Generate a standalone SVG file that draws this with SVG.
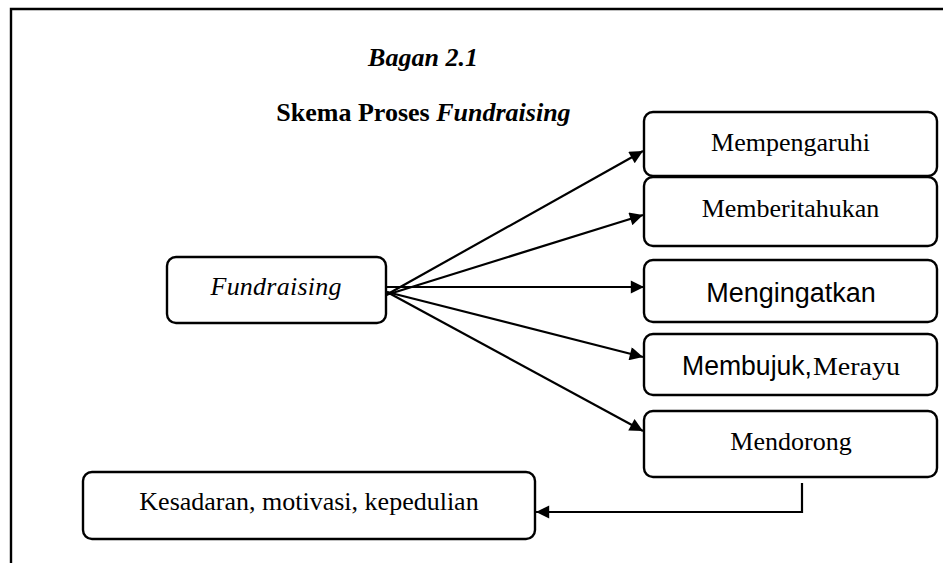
<svg xmlns="http://www.w3.org/2000/svg" width="943" height="563" viewBox="0 0 943 563">
<defs>
<style>
.box{fill:#fff;stroke:#000;stroke-width:2.4}
.t{font-family:"Liberation Serif","Times New Roman",serif;font-size:26px;fill:#000;text-anchor:middle}
.s{font-family:"Liberation Sans",Arial,sans-serif;font-size:27px;fill:#000}
.ln{fill:none;stroke:#000;stroke-width:2.2}
</style>
<marker id="ah" viewBox="0 0 10 10" refX="10" refY="5" markerWidth="7.5" markerHeight="6" markerUnits="strokeWidth" orient="auto">
<path d="M0,0 L10,5 L0,10 Z" fill="#000"/>
</marker>
</defs>
<rect width="943" height="563" fill="#fff"/>
<path d="M11,563 V9 H943" fill="none" stroke="#000" stroke-width="2.4"/>
<g id="title">
<text class="t" x="423" y="66" font-weight="bold" font-style="italic">Bagan 2.1</text>
<text class="t" x="423.5" y="121" font-weight="bold">Skema Proses <tspan font-style="italic">Fundraising</tspan></text>
</g>
<g id="fundraising">
<rect class="box" x="167" y="257" width="219" height="66" rx="9"/>
<text class="t" x="276" y="295" font-style="italic" textLength="131" lengthAdjust="spacing">Fundraising</text>
</g>
<g id="mempengaruhi">
<rect class="box" x="644" y="112" width="293" height="64" rx="9"/>
<text class="t" x="790.5" y="151">Mempengaruhi</text>
</g>
<g id="memberitahukan">
<rect class="box" x="644" y="177" width="293" height="69" rx="9"/>
<text class="t" x="790.5" y="217">Memberitahukan</text>
</g>
<g id="mengingatkan">
<rect class="box" x="644" y="260" width="293" height="62" rx="9"/>
<text class="s" x="791" y="302" style="text-anchor:middle">Mengingatkan</text>
</g>
<g id="membujuk">
<rect class="box" x="644" y="334" width="293" height="61" rx="9"/>
<text class="s" x="682" y="375" textLength="130" lengthAdjust="spacingAndGlyphs">Membujuk,</text>
<text class="t" x="813" y="375" style="font-size:25px;text-anchor:start" textLength="87" lengthAdjust="spacingAndGlyphs">Merayu</text>
</g>
<g id="mendorong">
<rect class="box" x="644" y="411" width="293" height="66" rx="9"/>
<text class="t" x="791" y="450">Mendorong</text>
</g>
<g id="kesadaran">
<rect class="box" x="83" y="472" width="452" height="67" rx="9"/>
<text class="t" x="309" y="510">Kesadaran, motivasi, kepedulian</text>
</g>
<g id="connectors">
<line class="ln" x1="386" y1="295" x2="643" y2="151" marker-end="url(#ah)"/>
<line class="ln" x1="386" y1="295" x2="643" y2="215" marker-end="url(#ah)"/>
<line class="ln" x1="386" y1="287" x2="644" y2="287" marker-end="url(#ah)"/>
<line class="ln" x1="387" y1="292" x2="643" y2="357" marker-end="url(#ah)"/>
<line class="ln" x1="387" y1="292" x2="643" y2="431" marker-end="url(#ah)"/>
<path class="ln" d="M802,483 V512 H536" marker-end="url(#ah)"/>
</g>
</svg>
